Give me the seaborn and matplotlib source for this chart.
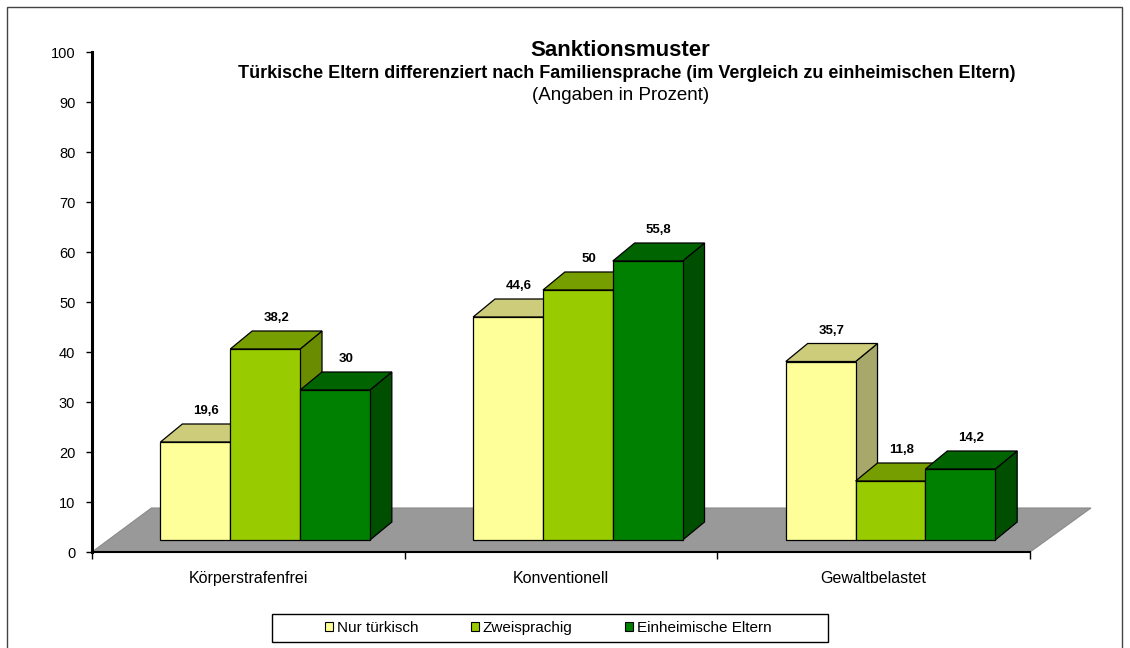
import pandas as pd
import matplotlib.pyplot as plt
import seaborn as sns
from matplotlib.patches import Polygon, Rectangle
from matplotlib.transforms import Affine2D

# Chart data (values in percent)
categories = ['Körperstrafenfrei', 'Konventionell', 'Gewaltbelastet']
groups = ['Nur türkisch', 'Zweisprachig', 'Einheimische Eltern']
nur_tuerkisch = [19.6, 44.6, 35.7]
zweisprachig = [38.2, 50.0, 11.8]
einheimisch = [30.0, 55.8, 14.2]
y_ticks = list(range(0, 101, 10))

# Colours: front, top and side faces of the pseudo 3D columns
front_colors = ['#FFFF99', '#99CC00', '#008000']
top_colors = ['#CCCC7A', '#779E00', '#006400']
side_colors = ['#A8A86A', '#6A8C00', '#004F00']

sns.set_style('white')
plt.rcParams['font.family'] = ['Liberation Sans', 'DejaVu Sans']
plt.rcParams['text.color'] = 'black'
plt.rcParams['xtick.color'] = 'black'
plt.rcParams['ytick.color'] = 'black'
plt.rcParams['xtick.labelcolor'] = 'black'
plt.rcParams['ytick.labelcolor'] = 'black'

df = pd.DataFrame({
    'Kategorie': categories * 3,
    'Gruppe': [g for g in groups for _ in categories],
    'Wert': nur_tuerkisch + zweisprachig + einheimisch,
})

fig = plt.figure(figsize=(11.3, 6.48), dpi=100)
ax = fig.add_axes([92 / 1130, 96 / 648, 938 / 1130, 500 / 648])

sns.barplot(data=df, x='Kategorie', y='Wert', hue='Gruppe', order=categories,
            hue_order=groups, palette=front_colors, saturation=1, width=0.67,
            edgecolor='black', linewidth=0.9, ax=ax, legend=True)

# 3D look: bars stand in the middle of a grey floor
shift_x, base_y = 0.054, 2.4
dep_x, dep_y = 0.07, 3.6
front_trans = Affine2D().translate(shift_x, base_y) + ax.transData

floor = Polygon([(-0.5, 0), (2.5, 0), (2.695, 8.8), (-0.31, 8.8)], closed=True,
                facecolor='#999999', edgecolor='#8a8a8a', lw=0.8, zorder=1, clip_on=False)
ax.add_patch(floor)

for h, cont in enumerate(ax.containers):
    for c, bar in enumerate(cont):
        z = 3 + 3 * (c * 3 + h)
        x0 = bar.get_x() + shift_x
        x1 = x0 + bar.get_width()
        y0 = base_y
        y1 = base_y + bar.get_height()
        bar.set_transform(front_trans)
        bar.set_zorder(z + 2)
        side = Polygon([(x1, y0), (x1, y1), (x1 + dep_x, y1 + dep_y), (x1 + dep_x, y0 + dep_y)],
                       closed=True, facecolor=side_colors[h], edgecolor='black', lw=0.9, zorder=z)
        top = Polygon([(x0, y1), (x1, y1), (x1 + dep_x, y1 + dep_y), (x0 + dep_x, y1 + dep_y)],
                      closed=True, facecolor=top_colors[h], edgecolor='black', lw=0.9, zorder=z + 1)
        ax.add_patch(side)
        ax.add_patch(top)
        label = f'{bar.get_height():g}'.replace('.', ',')
        ax.text((x0 + x1) / 2 + dep_x / 2, y1 + dep_y + 2.6, label, ha='center', va='center',
                fontsize=9.5, fontweight='bold', zorder=60)

ax.set_xlim(-0.5, 2.5)
ax.set_ylim(0, 100)
ax.set_yticks(y_ticks)
ax.set_xticks(range(len(categories)))
ax.set_xticklabels(categories)
ax.set_xticks([-0.5, 0.5, 1.5, 2.5], minor=True)
ax.set_xlabel('')
ax.set_ylabel('')
ax.tick_params(which='both', bottom=True, left=True)
ax.tick_params(axis='x', which='major', length=0, pad=14, labelsize=11.5)
ax.tick_params(axis='x', which='minor', length=5, width=1, color='black', direction='out')
ax.tick_params(axis='y', length=4, width=1, color='black', direction='out', pad=8, labelsize=10.5)
for s in ['top', 'right']:
    ax.spines[s].set_visible(False)
ax.spines['left'].set_color('black')
ax.spines['left'].set_linewidth(2.2)
ax.spines['bottom'].set_color('black')
ax.spines['bottom'].set_linewidth(1.5)

# legend in a separate wide box (as in the original)
leg = ax.get_legend()
handles = leg.legend_handles
labels = [t.get_text() for t in leg.get_texts()]
leg.remove()
for hd in handles:
    hd.set_edgecolor('black')
    hd.set_linewidth(0.8)
fig.legend(handles, labels, ncol=3, loc='center left', bbox_to_anchor=(325 / 1130, 1 - 628 / 648),
           frameon=False, fontsize=11, handlelength=0.55, handleheight=0.55, handletextpad=0.25,
           columnspacing=3.4, borderaxespad=0, borderpad=0)
fig.add_artist(Rectangle((272 / 1130, 6 / 648), 556 / 1130, 28 / 648, transform=fig.transFigure,
                         fill=False, edgecolor='black', lw=1))
fig.add_artist(Rectangle((7 / 1130, -0.1), 1115 / 1130, 1.1 - 7 / 648, transform=fig.transFigure,
                         fill=False, edgecolor='#444444', lw=1))

fig.text(620 / 1130, 1 - 50 / 648, 'Sanktionsmuster', ha='center', va='center',
         fontsize=16, fontweight='bold')
fig.text(627 / 1130, 1 - 73 / 648,
         'Türkische Eltern differenziert nach Familiensprache (im Vergleich zu einheimischen Eltern)',
         ha='center', va='center', fontsize=13, fontweight='bold')
fig.text(621 / 1130, 1 - 96 / 648, '(Angaben in Prozent)', ha='center', va='center', fontsize=13.5)

fig.savefig('out.png', dpi=100)
